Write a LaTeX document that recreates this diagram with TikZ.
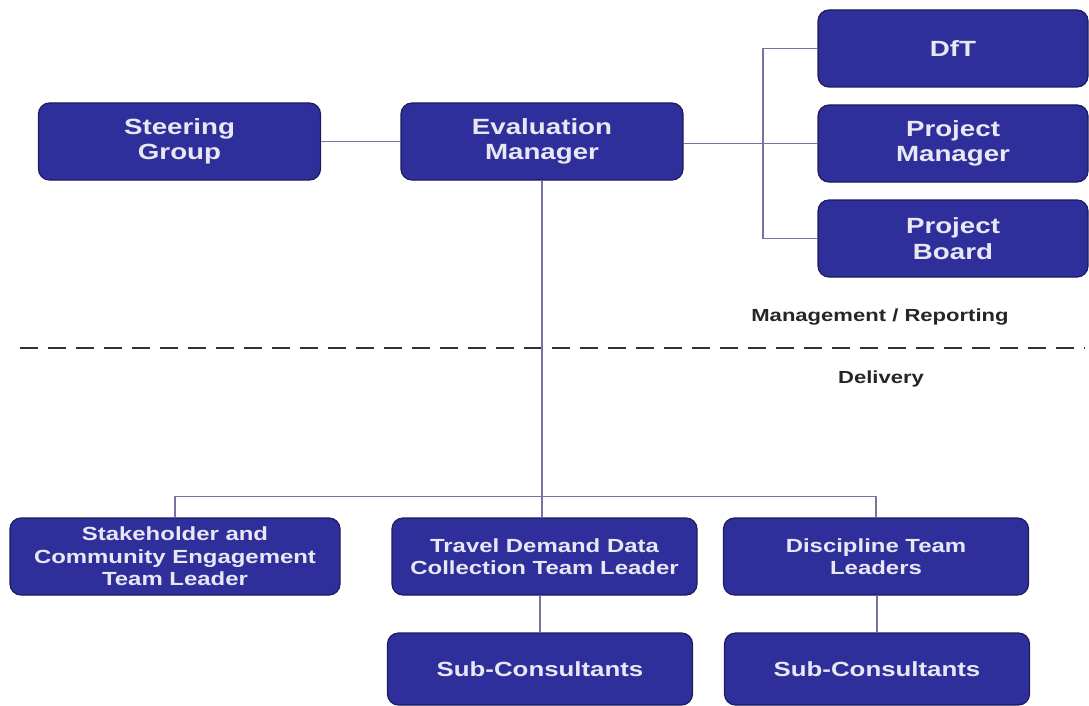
\documentclass[tikz,border=0pt]{standalone}
\usepackage{fontspec}
\setmainfont{Liberation Sans}[FakeStretch=1.26]
\usetikzlibrary{positioning}
\definecolor{boxblue}{HTML}{2F2F9C}
\definecolor{boxedge}{HTML}{1C1C5E}
\definecolor{linkgray}{HTML}{7474A4}
\definecolor{boxtext}{HTML}{E8E8F4}

\begin{document}
\begin{tikzpicture}[
    x=1pt, y=-1pt,
    role/.style={rectangle, draw=boxedge, line width=1.2pt, fill=boxblue, rounded corners=11pt,
        text=boxtext, font=\fontsize{22}{25.5}\selectfont\bfseries, align=center,
        minimum width=282pt, minimum height=77pt, inner sep=2pt},
    team/.style={role, font=\fontsize{19}{22.5}\selectfont\bfseries, minimum width=305pt},
    subteam/.style={role, font=\fontsize{20.5}{24}\selectfont\bfseries, minimum width=305pt, minimum height=72pt},
    link/.style={draw=linkgray, line width=1.4pt},
    caption/.style={font=\fontsize{17.5}{20}\selectfont\bfseries, text=black!85}
]
\useasboundingbox (0,0) rectangle (1089,706);

% management side
\node[role] (steering) at (179.5,141.5) {Steering\\Group};
\node[role] (evalmgr) at (542,141.5) {Evaluation\\Manager};
\node[role, minimum width=270pt] (dft) at (953,48.5) {DfT};
\node[role, minimum width=270pt] (projmgr) at (953,143.5) {Project\\Manager};
\node[role, minimum width=270pt] (projboard) at (953,238.5) {Project\\Board};

% delivery side
\node[team, minimum width=330pt] (stakeholder) at (175,556.5) {Stakeholder and\\Community Engagement\\Team Leader};
\node[team] (traveldemand) at (544.5,556.5) {Travel Demand Data\\Collection Team Leader};
\node[team] (discipline) at (876,556.5) {Discipline Team\\Leaders};
\node[subteam] (subtravel) at (540,669) {Sub-Consultants};
\node[subteam] (subdiscipline) at (877,669) {Sub-Consultants};

% split between the two halves
\draw[black!80, line width=2.6pt, dash pattern=on 18pt off 10pt] (20,348) -- (1085,348);
\node[caption] (mgmtlabel) at (880,317) {Management / Reporting};
\node[caption] (deliverylabel) at (881,379) {Delivery};

% reporting lines
\draw[link] (steering) -- (evalmgr);
\coordinate (rightbus) at (763,0);
\draw[link] (evalmgr.east |- projmgr.west) -- (projmgr.west);
\draw[link] (dft.west) -| (rightbus |- projboard.west) -- (projboard.west);

\draw[link] (evalmgr.south) -- (evalmgr.south |- traveldemand.north);
\draw[link] (stakeholder.north) -- ++(0,-21) -| (discipline.north);
\draw[link] (traveldemand.south -| subtravel.north) -- (subtravel.north);
\draw[link] (discipline.south -| subdiscipline.north) -- (subdiscipline.north);

\end{tikzpicture}
\end{document}
